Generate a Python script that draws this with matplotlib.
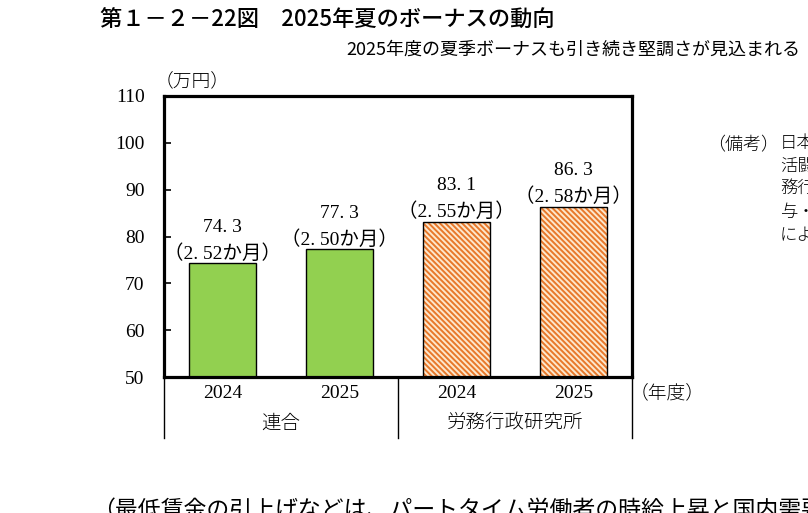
import numpy as np
import matplotlib.pyplot as plt
from matplotlib.transforms import blended_transform_factory

plt.rcParams['font.family'] = ['Liberation Serif', 'Noto Sans CJK JP', 'DejaVu Sans']
plt.rcParams['hatch.linewidth'] = 1.4

# data
years = ['2024', '2025', '2024', '2025']
groups = ['連合', '労務行政研究所']
bonus = [74.3, 77.3, 83.1, 86.3]          # 万円
months = ['2.52', '2.50', '2.55', '2.58']  # か月
yticks = [50, 60, 70, 80, 90, 100, 110]

green = '#92D050'
orange = '#E8782A'
cream = '#FDE7CC'
jp = ['Noto Sans CJK JP']

fig = plt.figure(figsize=(8.08, 5.13), dpi=100)
ax = fig.add_axes([164 / 808, 1 - 377 / 513, 468 / 808, 281 / 513])

x = np.arange(len(bonus))
w = 0.58
ax.bar(x[:2], bonus[:2], width=w, color=green, edgecolor='black', linewidth=1)
# hatched bars: hatch drawn with orange edge, outline drawn separately
ax.bar(x[2:], bonus[2:], width=w, color=cream, edgecolor=orange, hatch='\\' * 6, linewidth=0)
ax.bar(x[2:], bonus[2:], width=w, fill=False, edgecolor='black', linewidth=1)

for xi, v, m in zip(x, bonus, months):
    val = f'{v:.1f}'.replace('.', '. ')
    mon = '（' + m.replace('.', '. ') + 'か月）'
    ax.annotate(f'{val}\n{mon}', (xi, v), xytext=(0, 0.5), textcoords='offset points',
                ha='center', va='bottom', fontsize=14, linespacing=1.55)

ax.set_xlim(-0.5, 3.5)
ax.set_ylim(50, 110)
ax.set_yticks(yticks)
ax.tick_params(axis='y', direction='in', length=5, width=1.2, labelsize=14, pad=14)
ax.set_xticks([])
for s in ax.spines.values():
    s.set_linewidth(2.3)

trans = blended_transform_factory(ax.transData, ax.transAxes)
low = (377 - 438) / 281
for xv in [-0.5, 1.5, 3.5]:
    ax.plot([xv, xv], [0, low], transform=trans, color='black', lw=1, clip_on=False)
for xi, yr in zip(x, years):
    ax.text(xi, -16 / 281, yr, transform=trans, ha='center', va='center', fontsize=14)
for gx, g in zip([0.5, 2.5], groups):
    ax.text(gx, -46 / 281, g, transform=trans, ha='center', va='center', fontsize=14,
            family=jp, fontweight='light')
ax.text(0.994, -16 / 281, '（年度）', transform=ax.transAxes, ha='left', va='center', fontsize=13.5,
        family=jp, fontweight='light')
ax.text(-0.02, 1.02, '（万円）', transform=ax.transAxes, ha='left', va='bottom', fontsize=13.5,
        family=jp, fontweight='light')

fig.text(100 / 808, 1 - 20 / 513, '第１－２－22図　2025年夏のボーナスの動向', ha='left', va='center',
         fontsize=16, family=jp, fontweight='medium')
fig.text(800 / 808, 1 - 50 / 513, '2025年度の夏季ボーナスも引き続き堅調さが見込まれる', ha='right', va='center',
         fontsize=13, family=jp)
fig.text(707 / 808, 1 - 145 / 513, '（備考）', ha='left', va='center', fontsize=13,
         family=jp, fontweight='light')
fig.text(780 / 808, 1 - 134 / 513, '日本労働組合総連合会「生\n活闘争」、労\n務行政研究所「賞\n与・一時金」\nにより作成。',
         ha='left', va='top', fontsize=12.5, linespacing=1.35, family=jp, fontweight='light')
fig.text(92 / 808, 1 - 499 / 513, '（最低賃金の引上げなどは、パートタイム労働者の時給上昇と国内需要の下支えに',
         ha='left', va='top', fontsize=16.5, family=jp)

fig.savefig('out.png', dpi=100)
